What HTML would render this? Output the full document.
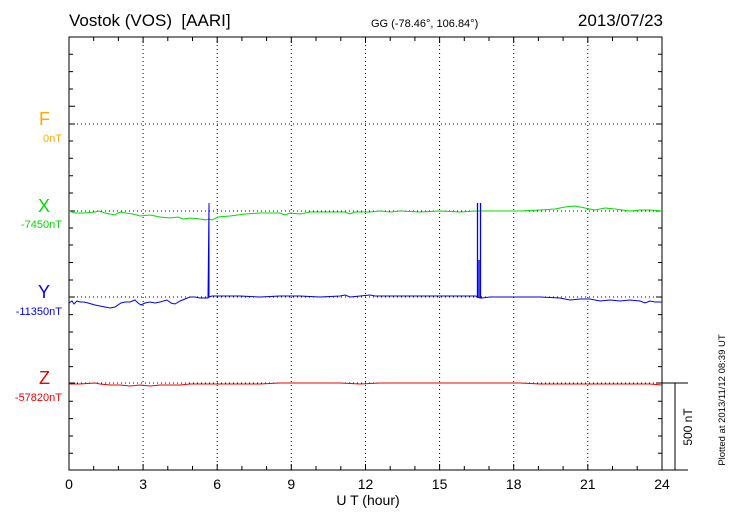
<!DOCTYPE html>
<html><head><meta charset="utf-8"><style>
html,body{margin:0;padding:0;background:#fff;width:730px;height:520px;overflow:hidden}
text{font-family:"Liberation Sans",sans-serif;white-space:pre}
</style></head><body>
<svg width="730" height="520" xmlns="http://www.w3.org/2000/svg">
<g id="grid" stroke="#000" stroke-width="1" stroke-dasharray="1,3">
<line x1="143.1" y1="37" x2="143.1" y2="470"/>
<line x1="217.2" y1="37" x2="217.2" y2="470"/>
<line x1="291.3" y1="37" x2="291.3" y2="470"/>
<line x1="365.5" y1="37" x2="365.5" y2="470"/>
<line x1="439.6" y1="37" x2="439.6" y2="470"/>
<line x1="513.7" y1="37" x2="513.7" y2="470"/>
<line x1="587.8" y1="37" x2="587.8" y2="470"/>
<line x1="69" y1="124" x2="662" y2="124"/>
<line x1="69" y1="211" x2="662" y2="211"/>
<line x1="69" y1="297" x2="662" y2="297"/>
<line x1="69" y1="383" x2="662" y2="383"/>
</g>
<g stroke="#000" stroke-width="1" fill="none">
<rect x="69" y="37" width="593" height="433"/>
<line x1="662" y1="383" x2="688" y2="383"/>
<line x1="662" y1="470" x2="688" y2="470"/>
<line x1="675" y1="383" x2="675" y2="470"/>
<path id="ticks" d="
M93.7 37v4M118.4 37v4M143.1 37v6M167.8 37v4M192.5 37v4M217.2 37v6M241.9 37v4M266.6 37v4M291.3 37v6M316 37v4M340.8 37v4M365.5 37v6M390.2 37v4M414.9 37v4M439.6 37v6M464.3 37v4M489 37v4M513.7 37v6M538.4 37v4M563.1 37v4M587.8 37v6M612.5 37v4M637.2 37v4
M93.7 470v-4M118.4 470v-4M143.1 470v-6M167.8 470v-4M192.5 470v-4M217.2 470v-6M241.9 470v-4M266.6 470v-4M291.3 470v-6M316 470v-4M340.8 470v-4M365.5 470v-6M390.2 470v-4M414.9 470v-4M439.6 470v-6M464.3 470v-4M489 470v-4M513.7 470v-6M538.4 470v-4M563.1 470v-4M587.8 470v-6M612.5 470v-4M637.2 470v-4
M69 54.3h4M69 71.6h4M69 89h4M69 106.3h6M69 124h6M69 141h4M69 158.3h4M69 175.7h4M69 193h4M69 211h6M69 228h4M69 245h4M69 262.5h4M69 280h4M69 297h6M69 314.6h4M69 332h4M69 349.3h4M69 366.6h4M69 383h6M69 401.3h4M69 418.6h4M69 436h4M69 453.3h4
M662 54.3h-4M662 71.6h-4M662 89h-4M662 106.3h-4M662 124h-6M662 141h-4M662 158.3h-4M662 175.7h-4M662 193h-4M662 211h-6M662 228h-4M662 245h-4M662 262.5h-4M662 280h-4M662 297h-6M662 314.6h-4M662 332h-4M662 349.3h-4M662 366.6h-4M662 383h-6M662 401.3h-4M662 418.6h-4M662 436h-4M662 453.3h-4"/>
</g>
<polyline fill="none" stroke="#00dd00" stroke-width="1" points="69,211 75,213 85,213 95,212 99,211 105,213 115,215 118,213 121,212 126,213 133,214 140,216 150,215 160,217 170,218 178,217 183,219 190,218 200,219 206,220 209,219 212,220 218,217 230,216 245,214 260,213 280,213 285,215 290,213 300,214 310,212 330,212 345,212 350,214 355,212 370,212 380,211 390,212 400,211 420,212 440,211 460,212 475,211 480,211 500,211 520,211 540,210 555,209 565,207 575,206 585,208 595,210 605,208 615,209 630,211 640,210 650,210 662,211"/>
<polyline fill="none" stroke="#0000ee" stroke-width="1" points="69,303 72,301 74,304 77,301 80,302 84,302 88,303 95,305 100,306 105,307 110,308 115,307 121,303 125,302 130,302 135,300 138,303 141,305 145,303 150,302 155,303 160,302 167,300 171,303 175,304 180,301 185,299 190,297 195,297 200,298 205,298 208,298 209,203 209,297 212,296 220,296 240,296 260,297 280,296 300,296 320,297 340,296 345,295 350,297 360,296 370,295 375,296 380,296 400,296 420,296 440,296 460,296 476,296 477,297 480,298 482,298 490,297 500,297 520,297 540,297 560,298 570,300 580,299 590,299 600,301 610,300 620,301 630,300 640,301 645,303 650,301 655,302 662,302"/>
<g stroke="#0000ee" stroke-width="1.3">
<line x1="477.5" y1="203" x2="477.5" y2="298"/>
<line x1="480.5" y1="203" x2="480.5" y2="298"/>
<line x1="479" y1="260" x2="479" y2="298"/>
</g>
<polyline fill="none" stroke="#ee0000" stroke-width="1" points="69,384 80,384 95,383 100,384 110,385 120,385 130,386 140,385 150,386 160,385 170,385 180,385 190,384 200,384 220,384 240,384 260,384 280,383 300,383 320,383 340,383 360,384 380,383 400,383 420,383 440,383 460,383 480,383 500,383 520,383 540,384 560,384 580,384 600,384 620,384 640,384 650,384 662,385"/>
<text x="69" y="26" font-size="17">Vostok (VOS)  [AARI]</text>
<text x="371" y="27" font-size="11">GG (-78.46°, 106.84°)</text>
<text x="663" y="26" font-size="17" text-anchor="end">2013/07/23</text>
<g font-size="14" text-anchor="middle">
<text x="69" y="489">0</text><text x="143.1" y="489">3</text><text x="217.2" y="489">6</text><text x="291.3" y="489">9</text><text x="365.5" y="489">12</text><text x="439.6" y="489">15</text><text x="513.7" y="489">18</text><text x="587.8" y="489">21</text><text x="662" y="489">24</text>
<text x="368" y="505">U T (hour)</text>
</g>
<g text-anchor="end">
<text x="50" y="125" font-size="18" fill="#ffaa00">F</text>
<text x="62" y="142" font-size="11" fill="#ffaa00">0nT</text>
<text x="50" y="212" font-size="18" fill="#00dd00">X</text>
<text x="62" y="228" font-size="11" fill="#00dd00">-7450nT</text>
<text x="50" y="298" font-size="18" fill="#0000ee">Y</text>
<text x="62" y="315" font-size="11" fill="#0000ee">-11350nT</text>
<text x="50" y="384" font-size="18" fill="#ee0000">Z</text>
<text x="62" y="401" font-size="11" fill="#ee0000">-57820nT</text>
</g>
<text transform="translate(692,427) rotate(-90)" font-size="12" text-anchor="middle">500 nT</text>
<text transform="translate(725,400) rotate(-90)" font-size="9.5" text-anchor="middle">Plotted at 2013/11/12 08:39 UT</text>
</svg>
</body></html>
